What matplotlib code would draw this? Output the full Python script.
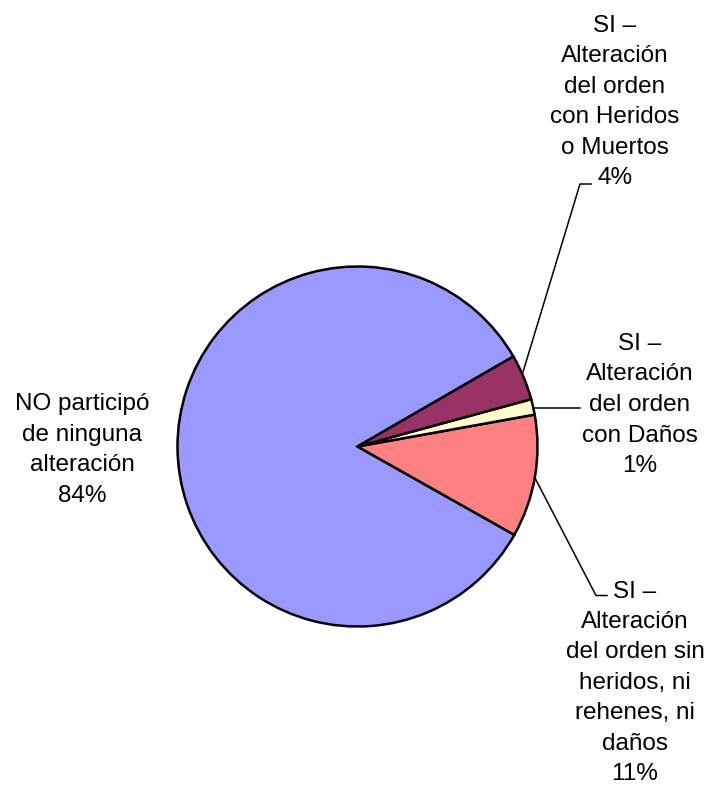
import matplotlib
matplotlib.use("Agg")
import matplotlib.pyplot as plt

plt.rcParams['font.family'] = ['Liberation Sans', 'DejaVu Sans']

categories = ["NO participó\nde ninguna\nalteración",
              "SI –\nAlteración\ndel orden sin\nheridos, ni\nrehenes, ni\ndaños",
              "SI –\nAlteración\ndel orden\ncon Daños",
              "SI –\nAlteración\ndel orden\ncon Heridos\no Muertos"]
values = [83.5, 11.0, 1.4, 4.1]
colors = ['#9999FF', '#FF8080', '#FFFFCC', '#993366']

W, H = 723, 785
fig = plt.figure(figsize=(W / 100, H / 100), dpi=100)
ax = fig.add_axes([0, 0, 1, 1])

cx, cy, r = 357.5, H - 446.5, 180
ax.pie(values, colors=colors, startangle=30, counterclock=True,
       center=(cx, cy), radius=r,
       wedgeprops=dict(edgecolor='black', linewidth=1.8))
ax.set_xlim(0, W)
ax.set_ylim(0, H)
ax.axis('off')

def py(y):
    return H - y

# label positions (pixel coords of the reference) and leader lines
label_pos = [(82, 450), (635, 683), (640, 405), (615, 102)]
leaders = [None,
           [(535, 478), (596, 595.5), (607, 595.5)],
           [(533, 407.5), (580, 407.5)],
           [(523, 372), (580, 184), (591, 184)]]

for cat, v, (lx, ly), lead in zip(categories, values, label_pos, leaders):
    ax.text(lx, py(ly), f"{cat}\n{v:.0f}%", ha='center', va='center',
            fontsize=17.5, linespacing=1.5, color='black')
    if lead:
        xs = [p[0] for p in lead]
        ys = [py(p[1]) for p in lead]
        ax.plot(xs, ys, color='black', linewidth=1.1)

fig.savefig("out.png", dpi=100, facecolor='white')
